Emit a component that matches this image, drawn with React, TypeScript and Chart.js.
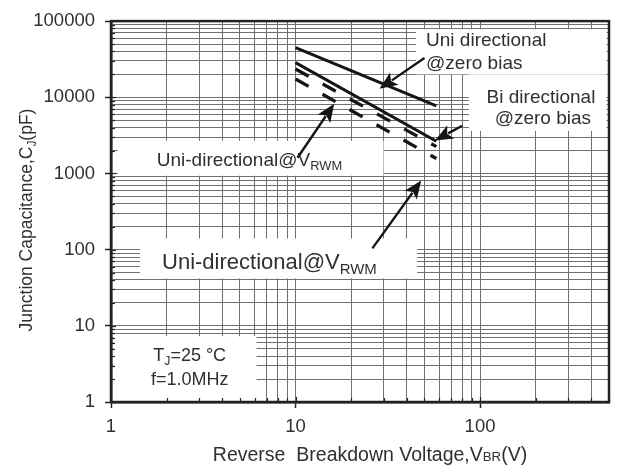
import React, { useEffect, useRef } from "react";
import { Chart, registerables } from "chart.js";

Chart.register(...registerables);

// ---- Axis ticks ----
const xTickValues = [1, 2, 3, 4, 5, 6, 7, 8, 9, 10, 20, 30, 40, 50, 60, 70, 80, 90, 100, 200, 300, 400, 500];
const yTickValues = [
  1, 2, 3, 4, 5, 6, 7, 8, 9,
  10, 20, 30, 40, 50, 60, 70, 80, 90,
  100, 200, 300, 400, 500, 600, 700, 800, 900,
  1000, 2000, 3000, 4000, 5000, 6000, 7000, 8000, 9000,
  10000, 20000, 30000, 40000, 50000, 60000, 70000, 80000, 90000,
  100000,
];
const xMajorLabels = ["1", "10", "100"];
const yMajorLabels = ["1", "10", "100", "1000", "10000", "100000"];

// ---- Series (Reverse breakdown voltage V -> capacitance pF) ----
const voltage = [10, 58];
const uniZeroBias = [45000, 7700];
const biZeroBias = [28500, 2650];
const uniVrwmUpper = [23500, 2250];
const uniVrwmLower = [17400, 1570];

// ---- Annotations (data coordinates) ----
const whiteBoxes = [
  { x0: 45, x1: 485, y0: 78000, y1: 20000 },
  { x0: 87, x1: 485, y0: 20000, y1: 3630 },
  { x0: 1.09, x1: 30, y0: 2690, y1: 935 },
  { x0: 1.435, x1: 45.6, y0: 140, y1: 42 },
  { x0: 1.03, x1: 6.15, y0: 7.3, y1: 1 },
];

const arrows = [
  { x0: 50, y0: 32800, x1: 28.5, y1: 12900 },
  { x0: 80, y0: 4230, x1: 57, y1: 2700 },
  { x0: 10.25, y0: 1610, x1: 16.2, y1: 8200 },
  { x0: 26.1, y0: 104, x1: 48, y1: 806 },
];

type Part = { t: string; sub?: boolean; dy?: number };
const textLabels: { parts: Part[]; x: number; y: number; align: "left" | "center"; size: number }[] = [
  { parts: [{ t: "Uni directional" }], x: 51, y: 54700, align: "left", size: 19 },
  { parts: [{ t: "@zero bias" }], x: 51, y: 27400, align: "left", size: 19 },
  { parts: [{ t: "Bi directional" }], x: 214, y: 9820, align: "center", size: 19 },
  { parts: [{ t: "@zero bias" }], x: 219, y: 5210, align: "center", size: 19 },
  { parts: [{ t: "Uni-directional@V" }, { t: "RWM", sub: true }], x: 1.77, y: 1470, align: "left", size: 19 },
  { parts: [{ t: "Uni-directional@V" }, { t: "RWM", sub: true }], x: 1.89, y: 65.9, align: "left", size: 22 },
  { parts: [{ t: "T" }, { t: "J", sub: true }, { t: "=25 °C" }], x: 2.67, y: 4.0, align: "center", size: 18 },
  { parts: [{ t: "f=1.0MHz" }], x: 2.67, y: 1.94, align: "center", size: 18 },
];

const FONT = "'Liberation Sans', Arial, Helvetica, sans-serif";
const TEXT_COLOR = "#303030";
const LINE_COLOR = "#151515";

function drawRich(ctx: CanvasRenderingContext2D, parts: Part[], x: number, y: number, size: number, align: "left" | "center") {
  const subSize = size * 0.68;
  let total = 0;
  const widths = parts.map((p) => {
    ctx.font = `${p.sub ? subSize : size}px ${FONT}`;
    const w = ctx.measureText(p.t).width;
    total += w;
    return w;
  });
  let cx = align === "center" ? x - total / 2 : x;
  ctx.textBaseline = "middle";
  ctx.textAlign = "left";
  parts.forEach((p, i) => {
    ctx.font = `${p.sub ? subSize : size}px ${FONT}`;
    const dy = p.dy !== undefined ? p.dy : p.sub ? size * 0.3 : 0;
    ctx.fillText(p.t, cx, y + dy);
    cx += widths[i];
  });
}

function drawArrow(ctx: CanvasRenderingContext2D, x0: number, y0: number, x1: number, y1: number) {
  const ang = Math.atan2(y1 - y0, x1 - x0);
  const headLen = 18;
  const headW = 7.5;
  const c = Math.cos(ang);
  const s = Math.sin(ang);
  const bx = x1 - headLen * c;
  const by = y1 - headLen * s;
  ctx.beginPath();
  ctx.moveTo(x0, y0);
  ctx.lineTo(bx + 3 * c, by + 3 * s);
  ctx.lineWidth = 2.4;
  ctx.stroke();
  ctx.beginPath();
  ctx.moveTo(x1, y1);
  ctx.lineTo(bx - headW * s, by + headW * c);
  ctx.lineTo(bx + 4 * c, by + 4 * s);
  ctx.lineTo(bx + headW * s, by - headW * c);
  ctx.closePath();
  ctx.fill();
}

const annotationPlugin = {
  id: "datasheetAnnotations",
  beforeDatasetsDraw(chart: any) {
    const ctx: CanvasRenderingContext2D = chart.ctx;
    const xs = chart.scales.x;
    const ys = chart.scales.y;
    const area = chart.chartArea;
    ctx.save();
    ctx.fillStyle = "#ffffff";
    for (const b of whiteBoxes) {
      const a = xs.getPixelForValue(b.x0);
      const bb = xs.getPixelForValue(b.x1);
      const c = ys.getPixelForValue(b.y0);
      const d = ys.getPixelForValue(b.y1);
      ctx.fillRect(Math.min(a, bb), Math.min(c, d), Math.abs(bb - a), Math.abs(d - c));
    }
    // inner ticks
    ctx.strokeStyle = "#222";
    ctx.lineWidth = 1.2;
    for (const v of xTickValues) {
      const px = Math.round(xs.getPixelForValue(v)) + 0.5;
      const len = xMajorLabels.includes(String(v)) ? 5 : 4;
      ctx.beginPath();
      ctx.moveTo(px, area.bottom);
      ctx.lineTo(px, area.bottom - len);
      ctx.stroke();
    }
    for (const v of yTickValues) {
      const py = Math.round(ys.getPixelForValue(v)) + 0.5;
      const len = yMajorLabels.includes(String(v)) ? 5 : 4;
      ctx.beginPath();
      ctx.moveTo(area.left, py);
      ctx.lineTo(area.left + len, py);
      ctx.stroke();
    }
    // texts
    ctx.fillStyle = TEXT_COLOR;
    for (const t of textLabels) {
      drawRich(ctx, t.parts, xs.getPixelForValue(t.x), ys.getPixelForValue(t.y), t.size, t.align);
    }
    ctx.restore();
  },
  afterDatasetsDraw(chart: any) {
    const ctx: CanvasRenderingContext2D = chart.ctx;
    const xs = chart.scales.x;
    const ys = chart.scales.y;
    const area = chart.chartArea;
    ctx.save();
    ctx.strokeStyle = LINE_COLOR;
    ctx.fillStyle = LINE_COLOR;
    for (const a of arrows) {
      drawArrow(ctx, xs.getPixelForValue(a.x0), ys.getPixelForValue(a.y0), xs.getPixelForValue(a.x1), ys.getPixelForValue(a.y1));
    }
    // frame
    ctx.strokeStyle = "#222";
    ctx.lineWidth = 2.5;
    ctx.strokeRect(area.left, area.top, area.right - area.left, area.bottom - area.top);

    // axis titles
    ctx.fillStyle = TEXT_COLOR;
    ctx.save();
    ctx.translate(27, 220);
    ctx.rotate(-Math.PI / 2);
    drawRich(ctx, [{ t: "Junction Capacitance,C" }, { t: "J", sub: true }, { t: "(pF)" }], 0, 0, 17.5, "center");
    ctx.restore();
    drawRich(
      ctx,
      [{ t: "Reverse  Breakdown Voltage,V" }, { t: "BR", sub: true, dy: 1.5 }, { t: "(V)" }],
      370,
      456,
      19.5,
      "center"
    );
    ctx.restore();
  },
};

const GRID_COLOR = "#707070";

export default function App() {
  const canvasRef = useRef<HTMLCanvasElement | null>(null);

  useEffect(() => {
    if (!canvasRef.current) return;
    const pts = (ys: number[]) => voltage.map((v, i) => ({ x: v, y: ys[i] }));
    const chart = new Chart(canvasRef.current, {
      type: "line",
      data: {
        datasets: [
          { label: "Uni directional @zero bias", data: pts(uniZeroBias), borderColor: LINE_COLOR, borderWidth: 3, pointRadius: 0, fill: false },
          { label: "Bi directional @zero bias", data: pts(biZeroBias), borderColor: LINE_COLOR, borderWidth: 3, pointRadius: 0, fill: false },
          { label: "Uni-directional@VRWM (a)", data: pts(uniVrwmUpper), borderColor: LINE_COLOR, borderWidth: 3.3, borderDash: [15, 16], pointRadius: 0, fill: false },
          { label: "Uni-directional@VRWM (b)", data: pts(uniVrwmLower), borderColor: LINE_COLOR, borderWidth: 3.3, borderDash: [15, 16], pointRadius: 0, fill: false },
        ],
      },
      options: {
        responsive: false,
        animation: false,
        devicePixelRatio: 1,
        layout: { padding: { top: 20, right: 7, left: 0, bottom: 0 } },
        plugins: { legend: { display: false }, tooltip: { enabled: false }, title: { display: false } },
        scales: {
          x: {
            type: "logarithmic",
            min: 1,
            max: 500,
            afterBuildTicks: (s: any) => {
              s.ticks = xTickValues.map((v) => ({ value: v, major: false }));
            },
            afterFit: (s: any) => {
              s.height = 63;
            },
            ticks: {
              autoSkip: false,
              maxRotation: 0,
              minRotation: 0,
              padding: 8,
              color: TEXT_COLOR,
              font: { family: FONT, size: 18.5 },
              callback: (v: any) => (xMajorLabels.includes(String(v)) ? String(v) : ""),
            },
            grid: {
              color: GRID_COLOR,
              lineWidth: 1,
              tickLength: 6,
              tickWidth: 1.5,
              tickColor: (c: any) => (c.tick && xMajorLabels.includes(String(c.tick.value)) ? "#222" : "rgba(0,0,0,0)"),
            },
            border: { color: "#222", width: 2.5 },
          },
          y: {
            type: "logarithmic",
            min: 1,
            max: 100000,
            afterBuildTicks: (s: any) => {
              s.ticks = yTickValues.map((v) => ({ value: v, major: false }));
            },
            afterFit: (s: any) => {
              s.width = 111;
            },
            ticks: {
              autoSkip: false,
              padding: 10,
              color: TEXT_COLOR,
              font: { family: FONT, size: 18.5 },
              callback: (v: any) => (yMajorLabels.includes(String(v)) ? String(v) : ""),
            },
            grid: {
              color: GRID_COLOR,
              lineWidth: 1,
              tickLength: 6,
              tickWidth: 1.5,
              tickColor: (c: any) => (c.tick && yMajorLabels.includes(String(c.tick.value)) ? "#222" : "rgba(0,0,0,0)"),
            },
            border: { color: "#222", width: 2.5 },
          },
        },
      },
      plugins: [annotationPlugin],
    } as any);
    return () => chart.destroy();
  }, []);

  return (
    <div style={{ position: "absolute", left: 0, top: 0, width: 617, height: 465, background: "#fff" }}>
      <canvas ref={canvasRef} width={617} height={465} style={{ display: "block" }} />
    </div>
  );
}
